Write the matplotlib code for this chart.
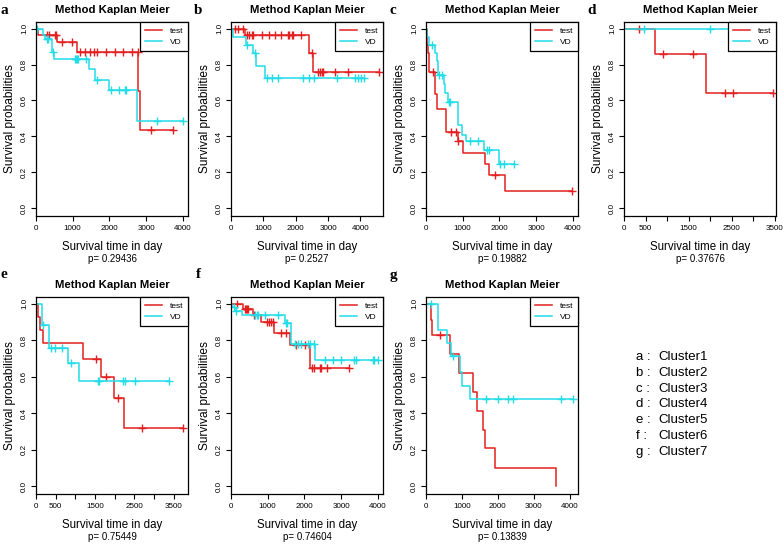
import numpy as np
import matplotlib
matplotlib.use('Agg')
import matplotlib.pyplot as plt
from matplotlib.lines import Line2D

plt.rcParams['font.family'] = ['Liberation Sans', 'DejaVu Sans']

# ---- data: step times (day), survival after step, censor times ----
# panel a (Cluster1)
a_test_t = [60, 570, 1120, 2790, 2830]
a_test_s = [0.967, 0.924, 0.871, 0.654, 0.433]
a_test_c = [290, 360, 510, 555, 700, 970, 1195, 1330, 1466, 1584, 1674, 1900, 2144, 2370, 2624, 2778, 3140, 3730]
a_vd_t = [200, 250, 430, 500, 1450, 1600, 1980, 2750]
a_vd_s = [0.963, 0.942, 0.868, 0.833, 0.773, 0.716, 0.656, 0.488]
a_vd_c = [36, 290, 330, 470, 1060, 1090, 1120, 1150, 1375, 1650, 2055, 2262, 2434, 2462, 3295, 4000]

# panel b (Cluster2)
b_test_t = [433, 2425, 2549]
b_test_s = [0.963, 0.864, 0.756]
b_test_c = [124, 206, 382, 485, 568, 640, 691, 949, 1176, 1362, 1548, 1754, 1806, 1878, 1909, 2167, 2497,
            2704, 2755, 2807, 2859, 3220, 3633, 4561]
b_vd_t = [72, 454, 691, 764, 1053]
b_vd_s = [0.955, 0.911, 0.864, 0.792, 0.725]
b_vd_c = [485, 743, 1104, 1259, 1465, 2239, 2425, 2580, 3292, 3839, 3942, 4014, 4100]

# panel c (Cluster3)
c_test_t = [18, 40, 60, 91, 250, 300, 544, 870, 1013, 1600, 1710, 2145]
c_test_s = [0.955, 0.91, 0.864, 0.76, 0.636, 0.554, 0.424, 0.374, 0.31, 0.247, 0.188, 0.095]
c_test_c = [181, 680, 805, 880, 1873, 3980]
c_vd_t = [36, 91, 245, 290, 336, 480, 530, 590, 878, 968, 1104, 1584, 1982]
c_vd_s = [0.955, 0.91, 0.864, 0.82, 0.74, 0.69, 0.64, 0.591, 0.461, 0.409, 0.377, 0.322, 0.247]
c_vd_c = [172, 362, 425, 615, 652, 1195, 1420, 1674, 1710, 2010, 2118, 2389]

# panel d (Cluster4)
d_test_t = [715, 1905]
d_test_s = [0.857, 0.643]
d_test_c = [350, 910, 1610, 2348, 2520, 3453]
d_vd_t = []
d_vd_s = []
d_vd_c = [460, 2000, 2600]

# panel e (Cluster5)
e_test_t = [59, 102, 186, 1203, 1653, 1992, 2237]
e_test_s = [0.93, 0.856, 0.786, 0.698, 0.596, 0.481, 0.319]
e_test_c = [1517, 1780, 2093, 2686, 3729]
e_vd_t = [140, 160, 339, 805, 1093]
e_vd_s = [0.939, 0.883, 0.759, 0.674, 0.576]
e_vd_c = [175, 373, 483, 653, 881, 1568, 1602, 2220, 2254, 2517, 3390]

# panel f (Cluster6)
f_test_t = [335, 606, 805, 1167, 1620, 2163]
f_test_s = [0.97, 0.939, 0.902, 0.841, 0.776, 0.646]
f_test_c = [154, 380, 407, 443, 470, 620, 986, 1032, 1104, 1149, 1376, 1511, 1783, 2009, 2208, 2253,
            2416, 2443, 2624, 3230]
f_vd_t = [40, 100, 300, 1466, 1647, 2281]
f_vd_s = [0.98, 0.96, 0.94, 0.893, 0.78, 0.694]
f_vd_c = [90, 130, 651, 697, 742, 923, 1285, 1493, 1529, 1738, 1828, 1919, 2100, 2145, 2253, 2552,
          2778, 3005, 3366, 3412, 3864, 3910, 4000]

# panel g (Cluster7)
g_test_t = [130, 158, 669, 919, 1318, 1411, 1578, 1643, 1922, 3621]
g_test_s = [0.913, 0.831, 0.727, 0.62, 0.517, 0.413, 0.309, 0.207, 0.102, 0.0]
g_test_c = [390]
g_vd_t = [325, 344, 576, 696, 940, 995, 1226]
g_vd_s = [0.93, 0.857, 0.786, 0.714, 0.625, 0.55, 0.476]
g_vd_c = [130, 761, 1671, 2015, 2275, 2414, 3760, 4085]

p_values = ['0.29436', '0.2527', '0.19882', '0.37676', '0.75449', '0.74604', '0.13839']
letters = ['a', 'b', 'c', 'd', 'e', 'f', 'g']

RED = '#e3201f'
CYAN = '#22dde8'
W, H = 784, 545


def km(ax, t, s, c, color):
    xs = np.r_[0, t]
    ys = np.r_[1, s]
    last = max(xs[-1], max(c))
    ax.step(np.r_[xs, last], np.r_[ys, ys[-1]], where='post', color=color, lw=1.1)
    cy = ys[np.searchsorted(xs, c, side='right') - 1]
    ax.plot(c, cy, '+', color=color, ms=5.5, mew=1.0, ls='none')


panels = [
    (a_test_t, a_test_s, a_test_c, a_vd_t, a_vd_s, a_vd_c),
    (b_test_t, b_test_s, b_test_c, b_vd_t, b_vd_s, b_vd_c),
    (c_test_t, c_test_s, c_test_c, c_vd_t, c_vd_s, c_vd_c),
    (d_test_t, d_test_s, d_test_c, d_vd_t, d_vd_s, d_vd_c),
    (e_test_t, e_test_s, e_test_c, e_vd_t, e_vd_s, e_vd_c),
    (f_test_t, f_test_s, f_test_c, f_vd_t, f_vd_s, f_vd_c),
    (g_test_t, g_test_s, g_test_c, g_vd_t, g_vd_s, g_vd_c),
]

# pixel layout: (left, top, right, bottom) of each plot box
boxes = [(36, 22, 188, 216), (231, 22, 383, 216), (426, 22, 578, 216), (624, 22, 776, 216),
         (36, 297, 188, 494), (231, 297, 383, 494), (426, 297, 578, 494)]
xmax = [4144, 4700, 4144, 3530, 3868, 4144, 4234]
xstep = [1000, 1000, 1000, 500, 500, 1000, 1000]
letter_pos = [(4, 10), (198, 10), (393, 10), (592, 10), (4, 275), (198, 275), (393, 275)]

fig = plt.figure(figsize=(W / 100, H / 100), dpi=100)


def fx(px):
    return px / W


def fy(py):
    return 1 - py / H


for i, (tt, ts, tc, vt, vs, vc) in enumerate(panels):
    l, t, r, b = boxes[i]
    ax = fig.add_axes([fx(l), fy(b), (r - l) / W, (b - t) / H])
    km(ax, tt, ts, tc, RED)
    km(ax, vt, vs, vc, CYAN)
    ax.set_xlim(0, xmax[i])
    ax.set_ylim(-0.043, 1.037)

    ticks = np.arange(0, xmax[i], xstep[i])
    ax.set_xticks(ticks)
    if xstep[i] == 500:
        ax.set_xticklabels([str(int(v)) if v in (0, 500, 1500, 2500, 3500) else '' for v in ticks])
    else:
        ax.set_xticklabels([str(int(v)) for v in ticks])
    ax.set_yticks([0, 0.2, 0.4, 0.6, 0.8, 1.0])
    ax.set_yticklabels(['0.0', '0.2', '0.4', '0.6', '0.8', '1.0'], rotation=90, va='center')
    ax.tick_params(direction='out', length=3.6, width=0.8, labelsize=5.8, colors='black')
    ax.tick_params(axis='x', pad=3.2)
    ax.tick_params(axis='y', pad=2.2)
    for sp in ax.spines.values():
        sp.set_linewidth(0.9)
    ax.set_ylabel('Survival probabilities', fontsize=8.6, labelpad=3.5)

    leg = ax.legend(handles=[Line2D([], [], color=RED, lw=1.1), Line2D([], [], color=CYAN, lw=1.1)],
                    labels=['test', 'VD'], loc='upper right', borderaxespad=0, fancybox=False,
                    framealpha=1, edgecolor='black', fontsize=6, handlelength=2.0,
                    handletextpad=0.9, borderpad=0.6, labelspacing=0.4)
    leg.get_frame().set_linewidth(0.9)
    leg.set_zorder(5)

    cx = fx((l + r) / 2)
    fig.text(cx, fy(t - 12), 'Method Kaplan Meier', ha='center', va='center',
             fontsize=8.2, fontweight='bold')
    fig.text(cx, fy(b + 31), 'Survival time in day', ha='center', va='center', fontsize=8.3)
    fig.text(cx, fy(b + 42.5), 'p= ' + p_values[i], ha='center', va='center', fontsize=7)
    lx, ly = letter_pos[i]
    fig.text(fx(lx), fy(ly), letters[i], ha='center', va='center', fontsize=11,
             fontweight='bold', family='Liberation Serif')

# cluster key
key_y = [357, 373, 389, 404, 420, 436, 452]
for k, y in enumerate(key_y):
    fig.text(fx(636), fy(y), letters[k] + ' :', ha='left', va='center', fontsize=9.5)
    fig.text(fx(658), fy(y), 'Cluster' + str(k + 1), ha='left', va='center', fontsize=9.5)

fig.savefig('out.png', dpi=100)
